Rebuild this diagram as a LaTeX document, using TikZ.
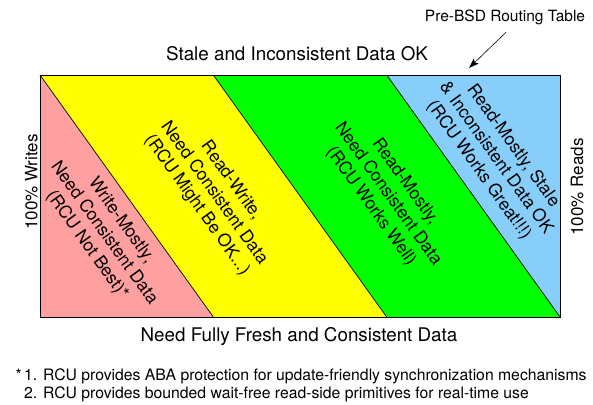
\documentclass[tikz,border=0pt]{standalone}
\usepackage{fontspec}
\setmainfont{TeX Gyre Heros}
\usetikzlibrary{arrows.meta}
\definecolor{pinkfill}{RGB}{255,160,160}
\definecolor{yellowfill}{RGB}{255,255,0}
\definecolor{greenfill}{RGB}{0,255,0}
\definecolor{bluefill}{RGB}{135,206,250}
\begin{document}
\begin{tikzpicture}[x=1pt,y=-1pt,
  region/.style={draw=black, line width=0.7pt, line join=round},
  frame/.style={draw=black, line width=0.9pt},
  diag/.style={font=\fontsize{17.5}{21}\selectfont, align=center, rotate=-54.4, inner sep=0pt},
  axislabel/.style={font=\fontsize{18.8}{22}\selectfont, anchor=base, inner sep=0pt},
  sidelabel/.style={font=\fontsize{17}{20}\selectfont, anchor=base, rotate=90, inner sep=0pt},
  smalltext/.style={font=\fontsize{15.5}{18}\selectfont, inner sep=0pt},
  notetext/.style={font=\fontsize{15.75}{18}\selectfont, inner sep=0pt},
  pointer/.style={draw=black, line width=0.6pt, -{Stealth[length=10pt,width=7pt,inset=2pt]}}
]
\useasboundingbox (0,0) rectangle (593,404);
% regions
\fill[pinkfill] (40,75) -- (213.3,317) -- (40,317) -- cycle;
\fill[yellowfill] (40,75) -- (213.3,75) -- (386.7,317) -- (213.3,317) -- cycle;
\fill[greenfill] (213.3,75) -- (386.7,75) -- (560,317) -- (386.7,317) -- cycle;
\fill[bluefill] (386.7,75) -- (560,75) -- (560,317) -- cycle;
\draw[region] (40,75) -- (213.3,317);
\draw[region] (213.3,75) -- (386.7,317);
\draw[region] (386.7,75) -- (560,317);
\draw[frame] (40,75) rectangle (560,317);
% diagonal labels
\node[diag] (wm) at (104,233) {Write-Mostly,\\Need Consistent Data\\(RCU Not Best)*};
\node[diag] (rw) at (214,193) {Read-Write,\\Need Consistent Data\\(RCU Might Be OK...)};
\node[diag] (rm) at (388,194) {Read-Mostly,\\Need Consistent Data\\(RCU Works Well)};
\node[diag] (rms) at (496,158) {Read-Mostly, Stale\\\& Inconsistent Data OK\\(RCU Works Great!!!)};
% axis labels
\node[axislabel] (top) at (297,60.7) {Stale and Inconsistent Data OK};
\node[axislabel] (bottom) at (299,341.7) {Need Fully Fresh and Consistent Data};
\node[sidelabel] (writes) at (37.3,182) {100\% Writes};
\node[sidelabel] (reads) at (583,187) {100\% Reads};
% pointer
\node[smalltext, anchor=base] (prebsd) at (505,21.7) {Pre-BSD Routing Table};
\coordinate (tip) at (469,68);
\draw[pointer] (prebsd.south) ++(1,7) -- (tip);
% footnotes
\node[notetext, anchor=base west, align=left] (notes) at (24,398)
  {\llap{*\hspace{2.5pt}}1. RCU provides ABA protection for update-friendly synchronization mechanisms\\
   2. RCU provides bounded wait-free read-side primitives for real-time use};
\end{tikzpicture}
\end{document}
